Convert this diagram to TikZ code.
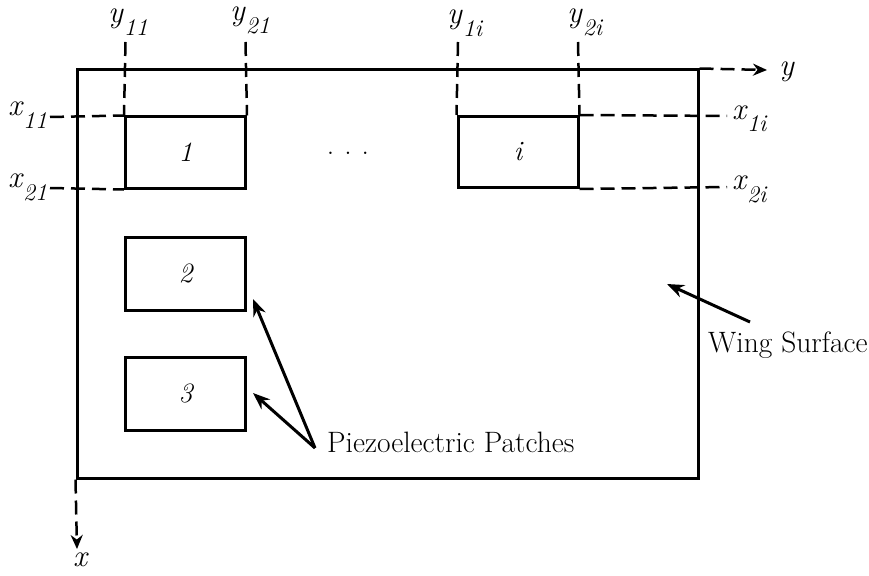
\documentclass[tikz,border=0pt]{standalone}
\usepackage{fontspec}
\usetikzlibrary{arrows.meta,calc}
\tikzset{
 thickline/.style={line width=3pt},
 patch/.style={draw, line width=3pt, minimum width=120pt, minimum height=71pt, inner sep=0pt, font=\fontsize{28}{30}\selectfont\itshape},
 dashline/.style={line width=2.5pt, dash pattern=on 14pt off 7pt},
 lbl/.style={inner sep=0pt, font=\fontsize{29.5}{32}\selectfont},
 sym/.style={inner sep=0pt, anchor=base west},
 pointer/.style={line width=3pt, -{Stealth[length=17pt,width=13pt]}},
 axisarrow/.style={line width=2.5pt, dash pattern=on 14pt off 7pt, -{Stealth[length=14pt,width=12pt]}},
}
\newcommand{\sublab}[2]{{\fontsize{31}{32}\selectfont\itshape #1}\hspace{1pt}\raisebox{-13pt}{\fontsize{24}{26}\selectfont\itshape #2}}
\begin{document}
\begin{tikzpicture}[x=1pt,y=-1pt]
\useasboundingbox (0,0) rectangle (869,575);
% wing surface
\node[draw, thickline, minimum width=621pt, minimum height=408pt, inner sep=0pt] (wing) at (387.5,274) {};
% patches
\node[patch] (p1) at (185.5,152.5) {1};
\node[patch] (pi) at (518,152) {i};
\node[patch, minimum height=73pt] (p2) at (185.5,273.5) {2};
\node[patch, minimum height=73pt] (p3) at (185.5,393.5) {3};
\node[lbl, anchor=base] (dots) at (348,154) {.\hspace{10pt}.\hspace{10pt}.};
% axes
\coordinate (yend) at (767,70);
\coordinate (xend) at (77,549);
\draw[axisarrow] (wing.north east) -- (yend);
\draw[axisarrow] (wing.south west) -- (xend);
\node[sym, font=\fontsize{31}{32}\selectfont\itshape] (ylab) at (779,76) {y};
\node[sym, font=\fontsize{31}{32}\selectfont\itshape] (xlab) at (73,566) {x};
% top labels
\node[sym] (ly11) at (108,23) {\sublab{y}{11}};
\node[sym] (ly21) at (230,21) {\sublab{y}{21}};
\node[sym] (ly1i) at (447,24) {\sublab{y}{1i}};
\node[sym] (ly2i) at (567,23) {\sublab{y}{2i}};
\coordinate (t11) at (125.5,42);
\coordinate (t21) at (245.5,42);
\coordinate (t1i) at (458,42);
\coordinate (t2i) at (578,42);
\draw[dashline] (t11) -- (p1.north west);
\draw[dashline] (t21) -- (p1.north east);
\draw[dashline] (t1i) -- (pi.north west);
\draw[dashline] (t2i) -- (pi.north east);
% side labels
\node[sym] (lx11) at (8,116) {\sublab{x}{11}};
\node[sym] (lx21) at (8,187) {\sublab{x}{21}};
\node[sym] (lx1i) at (732,119) {\sublab{x}{1i}};
\node[sym] (lx2i) at (732,189) {\sublab{x}{2i}};
\coordinate (s11) at (50,117);
\coordinate (s21) at (50,188);
\coordinate (s1i) at (727,116);
\coordinate (s2i) at (727,187);
\draw[dashline] (s11) -- (p1.north west);
\draw[dashline] (s21) -- (p1.south west);
\draw[dashline] (pi.north east) -- (s1i);
\draw[dashline] (pi.south east) -- (s2i);
% annotations
\node[lbl, anchor=base west] (piezo) at (327,452) {Piezoelectric Patches};
\node[lbl, anchor=base west] (wsurf) at (708,352) {Wing Surface};
\coordinate (pz) at (315,448);
\coordinate (a2) at (253,299);
\coordinate (a3) at (253,393);
\draw[pointer] (pz) -- (a2);
\draw[pointer] (pz) -- (a3);
\coordinate (ws) at (750,322);
\coordinate (aw) at (667,284);
\draw[pointer] (ws) -- (aw);
\end{tikzpicture}
\end{document}
